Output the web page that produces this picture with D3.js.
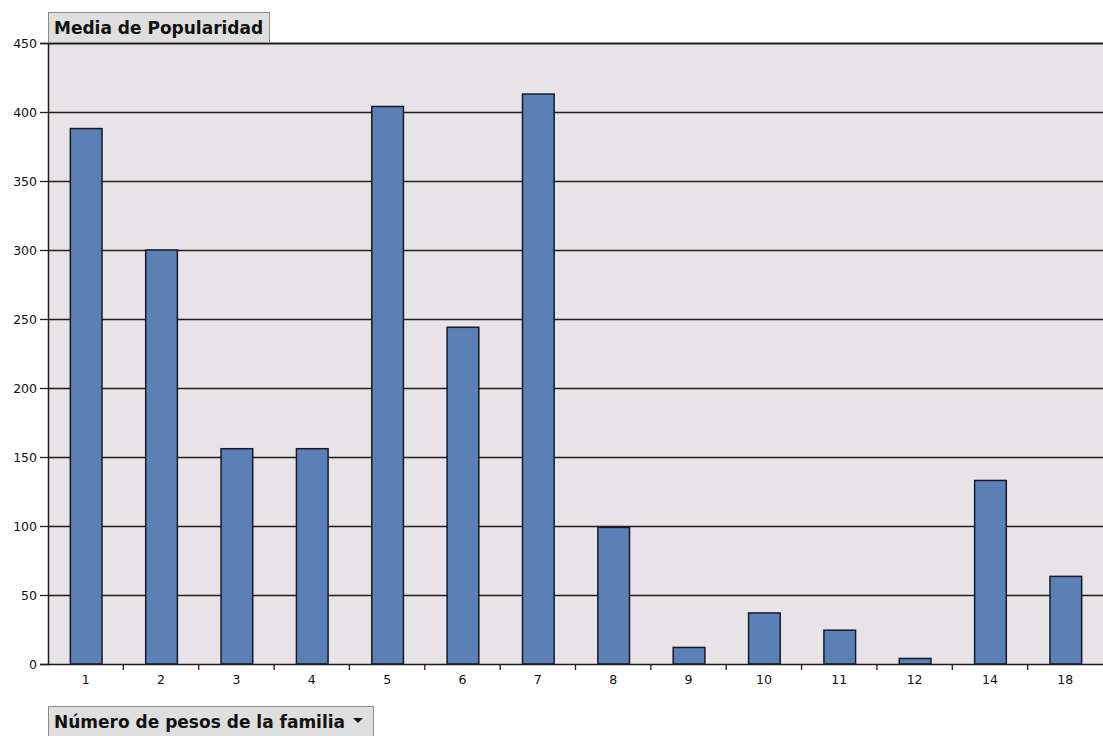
<!DOCTYPE html>
<html><head><meta charset="utf-8">
<script src="https://cdn.jsdelivr.net/npm/d3@7"></script>
<style>body{margin:0;background:#fff;}svg{display:block;}</style>
</head><body>
<script>
const categories = ["1","2","3","4","5","6","7","8","9","10","11","12","14","18"];
const values = [388, 300, 156, 156, 404, 244, 413, 99, 12, 37, 24.5, 4, 133, 63.5];
const yTicks = [0,50,100,150,200,250,300,350,400,450];
const titleText = "Media de Popularidad";
const fieldText = "Número de pesos de la familia";

const W = 1103, H = 736;
const m = {left:48, top:43, right:0, bottom:72};
const svg = d3.select("body").append("svg").attr("width",W).attr("height",H);

const x = d3.scaleBand().domain(categories).range([m.left, W - m.right]).paddingInner(0.58).paddingOuter(0.29);
const y = d3.scaleLinear().domain([0,450]).range([H - m.bottom, m.top]);

svg.append("rect").attr("x",m.left).attr("y",m.top).attr("width",W-m.left-m.right).attr("height",y(0)-m.top).attr("fill","#e7e3e6");

// gridlines
svg.append("g").selectAll("line").data(yTicks.filter(d=>d>0)).join("line")
  .attr("x1",m.left).attr("x2",W).attr("y1",d=>y(d)+0.5).attr("y2",d=>y(d)+0.5)
  .attr("stroke","#1e1e1e").attr("stroke-width",d=>d===450?2:1.3);

// bars
svg.append("g").selectAll("rect").data(values).join("rect")
  .attr("x",(d,i)=>x(categories[i])+0.5).attr("width",x.bandwidth())
  .attr("y",d=>y(d)).attr("height",d=>y(0)-y(d))
  .attr("fill","#5b80b6").attr("stroke","#141a28").attr("stroke-width",1.5);

const tickFont = "DejaVu Sans, Verdana, sans-serif";
// y axis
const yAx = svg.append("g").attr("transform",`translate(${m.left},0)`)
  .call(d3.axisLeft(y).tickValues(yTicks).tickSize(8).tickPadding(3));
yAx.select(".domain").attr("stroke","#1e1e1e").attr("stroke-width",1.5);
yAx.selectAll(".tick line").attr("stroke","#1e1e1e").attr("stroke-width",1.3);
yAx.selectAll("text").attr("font-family",tickFont).attr("font-size",12.5).attr("fill","#111");

// x axis
const xAx = svg.append("g").attr("transform",`translate(0,${y(0)})`)
  .call(d3.axisBottom(x).tickSize(0).tickPadding(11));
xAx.select(".domain").attr("d",`M${m.left},0.5H${W}`).attr("stroke","#1e1e1e").attr("stroke-width",1.5);
xAx.selectAll("text").attr("font-family",tickFont).attr("font-size",12.5).attr("fill","#111");
// separator ticks between categories
const step = x.step();
svg.append("g").selectAll("line").data(categories.slice(1)).join("line")
  .attr("x1",c=>x(c)-(step-x.bandwidth())/2).attr("x2",c=>x(c)-(step-x.bandwidth())/2)
  .attr("y1",y(0)).attr("y2",y(0)+6).attr("stroke","#1e1e1e").attr("stroke-width",1.3);

function button(x0,y0,w,h,txt,base,arrow){
  const g = svg.append("g");
  g.append("rect").attr("x",x0+0.5).attr("y",y0+0.5).attr("width",w).attr("height",h)
    .attr("fill","#dfdfdf").attr("stroke","#8a8a8a");
  g.append("text").attr("x",x0+6).attr("y",base).text(txt)
    .attr("font-family","DejaVu Sans, Verdana, sans-serif").attr("font-weight","bold").attr("font-size",17).attr("fill","#111");
  if(arrow){
    const ax = x0+w-15, ay = y0+12;
    g.append("path").attr("d",`M${ax-5},${ay}L${ax+5},${ay}L${ax},${ay+5}Z`).attr("fill","#111");
  }
}
button(48,12,221,30,titleText,34,false);
button(48,706,325,34,fieldText,728,true);
</script>
</body></html>
